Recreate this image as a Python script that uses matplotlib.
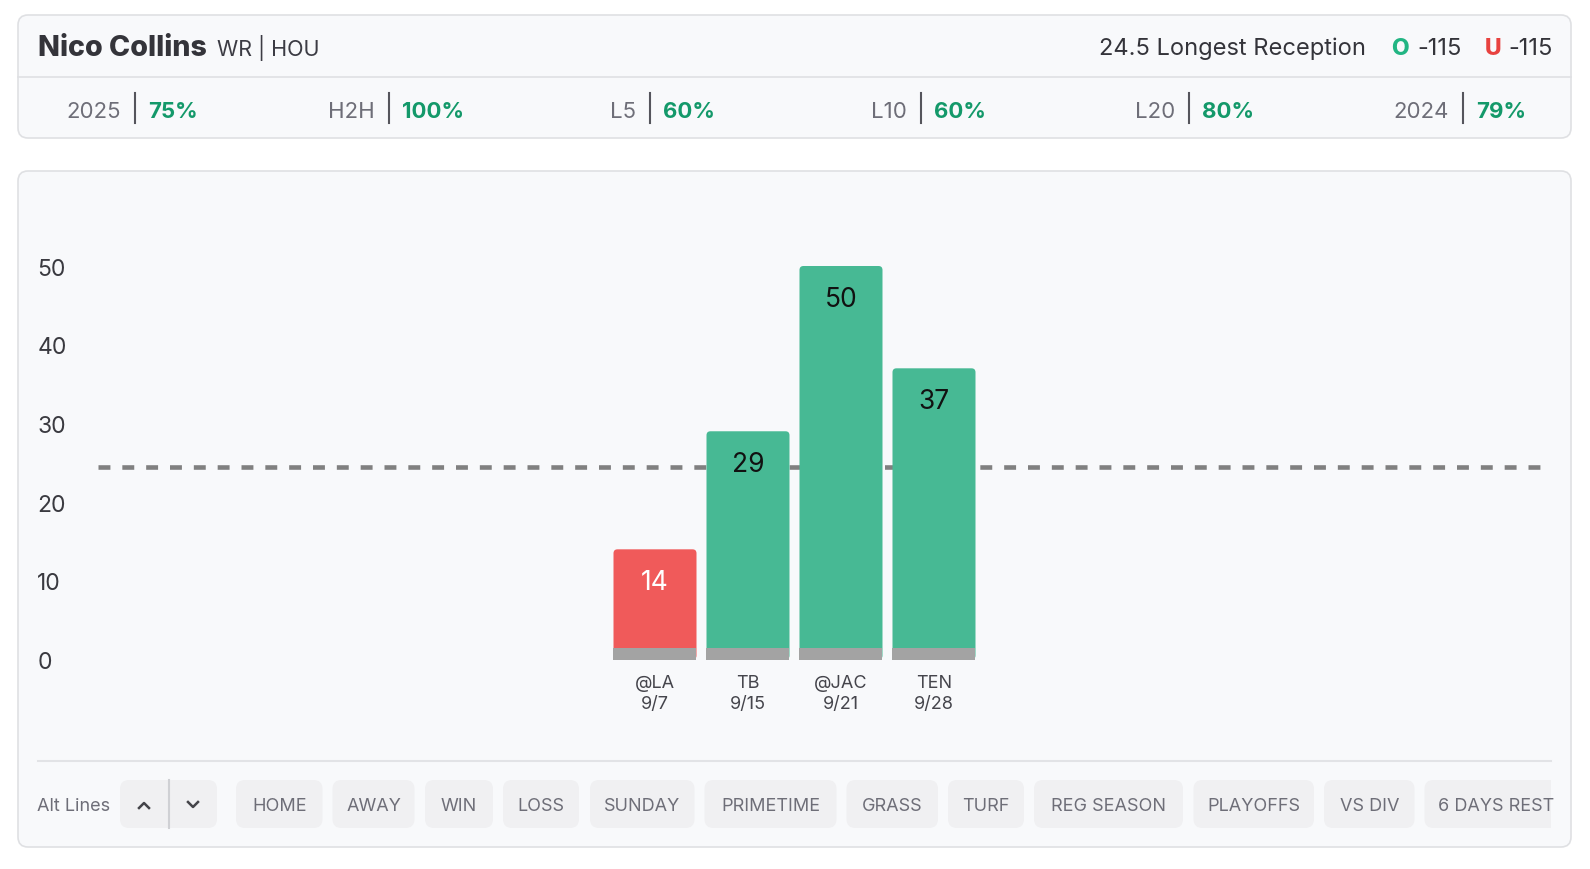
import matplotlib
matplotlib.use("Agg")
import matplotlib.pyplot as plt
from matplotlib.patches import FancyBboxPatch, Rectangle

plt.rcParams['font.family'] = ['Inter', 'DejaVu Sans']

# data
player = 'Nico Collins'
position_team = 'WR | HOU'
prop_line = 24.5
prop_name = 'Longest Reception'
over_odds = '-115'
under_odds = '-115'

stat_labels = ['2025', 'H2H', 'L5', 'L10', 'L20', '2024']
stat_values = ['75%', '100%', '60%', '60%', '80%', '79%']

opponents = ['@LA', 'TB', '@JAC', 'TEN']
dates = ['9/7', '9/15', '9/21', '9/28']
values = [14, 29, 50, 37]

buttons = ['HOME', 'AWAY', 'WIN', 'LOSS', 'SUNDAY', 'PRIMETIME', 'GRASS',
           'TURF', 'REG SEASON', 'PLAYOFFS', 'VS DIV', '6 DAYS REST']

# colours
GREEN = '#47b994'
RED = '#f05a5a'
BASE = '#a3a3a3'
PANEL = '#f8f9fb'
BORDER = '#dfe0e3'
DARK = '#34343a'
MUTED = '#6e6e78'
PCT = '#14996a'

W, H = 1590, 870
fig = plt.figure(figsize=(W / 100, H / 100), dpi=100)
fig.patch.set_facecolor('white')

# background axes in pixel coordinates for the card layout
bg = fig.add_axes([0, 0, 1, 1])
bg.set_xlim(0, W)
bg.set_ylim(H, 0)
bg.axis('off')


def card(x0, y0, x1, y1, fc=PANEL, ec=BORDER, r=10, lw=1.2, z=0):
    p = FancyBboxPatch((x0, y0), x1 - x0, y1 - y0,
                       boxstyle=f'round,pad=0,rounding_size={r}',
                       fc=fc, ec=ec, lw=lw, zorder=z)
    bg.add_patch(p)
    return p


# header card
card(18, 16, 1571, 139)
bg.plot([18, 1571], [78, 78], color=BORDER, lw=1.2)
bg.text(38.5, 56, player, fontsize=20.6, fontweight='heavy', color=DARK, va='baseline')
bg.text(217, 56, position_team, fontsize=15.5, color='#3c3c44', va='baseline')
bg.text(1366, 55, f'{prop_line} {prop_name}', fontsize=17, color=DARK,
        ha='right', va='baseline')
bg.text(1391, 55, 'O', fontsize=16.5, fontweight='heavy', color='#22b583', va='baseline')
bg.text(1417, 55, over_odds, fontsize=17, color=DARK, va='baseline')
bg.text(1485, 55, 'U', fontsize=16.5, fontweight='heavy', color='#e8423f', va='baseline')
bg.text(1508, 55, under_odds, fontsize=17, color=DARK, va='baseline')

sep_x = [135, 389, 650, 921, 1189, 1463]
for sx, lab, val in zip(sep_x, stat_labels, stat_values):
    bg.plot([sx, sx], [94, 124], color='#55555c', lw=1.5)
    bg.text(sx - 14, 118, lab, fontsize=16, color=MUTED, ha='right', va='baseline')
    bg.text(sx + 13, 118, val, fontsize=16, fontweight='bold', color=PCT,
            ha='left', va='baseline')

# chart card
card(18, 172, 1571, 848)
bg.plot([37.5, 1551], [762, 762], color='#e2e3e6', lw=1.5)

# alt lines / filter buttons
bg.text(37, 807, 'Alt Lines', fontsize=13, color=MUTED, va='center')
card(120, 781, 217, 829, fc='#f0f0f2', ec='none', r=9)
bg.plot([169, 169], [781, 829], color='#cfd0d4', lw=1.5)
bg.plot([139, 144, 149], [809, 804, 809], color='#44444a', lw=1.8)
bg.plot([188, 193, 198], [803, 808, 803], color='#44444a', lw=1.8)

btn_left = [236, 332.5, 425, 503, 590, 704.5, 846.5, 948, 1034, 1193.5, 1324, 1424.5]
btn_right = [322.5, 414.5, 493, 579, 694.5, 836.5, 938, 1024, 1183, 1314, 1414.5, 1564]
clip = Rectangle((0, 0), 1551, H, transform=bg.transData)
for lab, l, r in zip(buttons, btn_left, btn_right):
    p = card(l, 781, r, 829, fc='#f0f0f2', ec='none', r=9)
    t = bg.text((l + r) / 2 if r < 1551 else l + 14, 807, lab, fontsize=13,
                color=MUTED, ha='center' if r < 1551 else 'left', va='center')
    p.set_clip_path(clip)
    t.set_clip_path(clip)

# bar chart axes: value v -> pixel 660.5 - 7.87 v ; game i -> pixel 655 + 93 i
ylo, yhi = -1.0, 56.0
xlo, xhi = -5.985, 9.527
px_l, px_r = 98.4, 1541
py_t = 660.5 - yhi * 7.87
py_b = 660.5 - ylo * 7.87
ax = fig.add_axes([px_l / W, 1 - py_b / H, (px_r - px_l) / W, (py_b - py_t) / H])
ax.set_xlim(xlo, xhi)
ax.set_ylim(ylo, yhi)
ax.patch.set_alpha(0)
for s in ax.spines.values():
    s.set_visible(False)

xs = list(range(len(values)))
colors = [GREEN if v > prop_line else RED for v in values]
bw = 83 / 93

ax.axhline(prop_line, color='#808080', lw=3.3, linestyle=(0, (2.6, 2.6)), zorder=1)

bars = ax.bar(xs, values, width=bw, color=colors, zorder=2)
# swap plain rectangles for rounded ones (radius ~4px)
for b, c in zip(bars, colors):
    b.set_visible(False)
    rs = 4 / 93
    rb = FancyBboxPatch((b.get_x(), b.get_y()), b.get_width(), b.get_height(),
                        boxstyle=f'round,pad=0,rounding_size={rs}',
                        mutation_aspect=93 / 7.87, fc=c, ec='none', zorder=2)
    ax.add_patch(rb)
ax.bar(xs, [1.45] * len(values), width=bw, color=BASE, zorder=3)

for x, v in zip(xs, values):
    ax.text(x, v - 4.15, str(v), ha='center', va='center', fontsize=19,
            color='white' if v <= prop_line else '#111111', zorder=4)

ax.set_yticks([0, 10, 20, 30, 40, 50])
ax.set_xticks(xs)
ax.set_xticklabels([f'{o}\n{d}' for o, d in zip(opponents, dates)],
                   fontsize=13, color='#45454c', linespacing=1.3)
ax.tick_params(axis='x', length=0, pad=5)
ax.tick_params(axis='y', length=0, pad=44, labelsize=16.5, labelcolor='#3a3a40')
for t in ax.get_yticklabels():
    t.set_horizontalalignment('left')

fig.savefig('out.png', dpi=100, facecolor='white')
